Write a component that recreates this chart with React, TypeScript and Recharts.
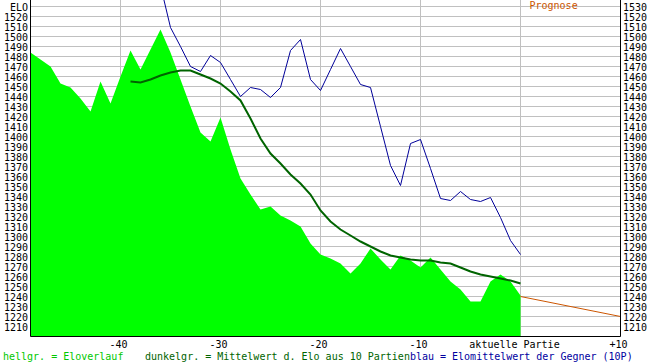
import { ComposedChart, Area, Line, XAxis, YAxis, CartesianGrid } from 'recharts';

// Partien relativ zur aktuellen Partie (0), plus Prognosepunkt +10
const games = [
  -49, -48, -47, -46, -45, -44, -43, -42, -41, -40,
  -39, -38, -37, -36, -35, -34, -33, -32, -31, -30,
  -29, -28, -27, -26, -25, -24, -23, -22, -21, -20,
  -19, -18, -17, -16, -15, -14, -13, -12, -11, -10,
  -9, -8, -7, -6, -5, -4, -3, -2, -1, 0, 10,
];

// hellgrün: Eloverlauf ab Partie -49
const eloVerlauf = [
  1484, 1477, 1470, 1453, 1449, 1438, 1425, 1455, 1433, 1460,
  1486, 1467, 1487, 1507, 1484, 1457, 1430, 1404, 1395, 1419,
  1387, 1358, 1342, 1327, 1330, 1321, 1316, 1310, 1293, 1282,
  1278, 1273, 1263, 1273, 1288, 1277, 1267, 1281, 1276, 1269,
  1279, 1267, 1255, 1247, 1235, 1235, 1255, 1262, 1255, 1241,
];

// dunkelgrün: Mittelwert aus 10 Partien, ab Partie -39
const mittelwertStart = -39;
const mittelwert = [
  1455, 1454, 1457, 1461, 1464, 1466, 1466, 1462, 1458, 1453,
  1445, 1436, 1418, 1398, 1383, 1373, 1362, 1353, 1342, 1326,
  1315, 1307, 1301, 1295, 1290, 1285, 1281, 1279, 1277, 1276,
  1276, 1274, 1273, 1269, 1265, 1262, 1260, 1258, 1256, 1253,
];

// blau: Elomittelwert der Gegner (10P), ab Partie -36
const gegnerStart = -36;
const gegner = [
  1551,
  1509, 1490, 1470, 1465, 1481, 1474, 1457, 1440, 1449, 1447,
  1439, 1449, 1486, 1497, 1457, 1446, 1467, 1488, 1470, 1452,
  1449, 1410, 1371, 1351, 1393, 1397, 1368, 1338, 1336, 1345,
  1337, 1335, 1339, 1319, 1296, 1282,
];

const prognoseGames = [0, 10];
const prognose = [1240, 1220];

const yTicks = [
  1210, 1220, 1230, 1240, 1250, 1260, 1270, 1280, 1290, 1300, 1310,
  1320, 1330, 1340, 1350, 1360, 1370, 1380, 1390, 1400, 1410, 1420,
  1430, 1440, 1450, 1460, 1470, 1480, 1490, 1500, 1510, 1520, 1530,
];
const xTicks = [-40, -30, -20, -10, 0, 10];

const data = games.map((g, k) => {
  const pi = prognoseGames.indexOf(g);
  return {
    g,
    elo: eloVerlauf[k],
    avg: mittelwert[g - mittelwertStart],
    opp: gegner[g - gegnerStart],
    prog: pi >= 0 ? prognose[pi] : undefined,
  };
});

const FONT = '"DejaVu Sans Mono", monospace';
const Y_DOMAIN = [1200, 1536.5];

// horizontale Gitterlinien aus der y-Skala der Achse
const hGrid = (props: any) => {
  const s = props?.yAxis?.scale;
  if (typeof s === 'function') return yTicks.map((v) => s(v));
  const o = props?.offset;
  if (!o) return [];
  const [lo, hi] = Y_DOMAIN;
  return yTicks.map((v) => o.top + o.height * (1 - (v - lo) / (hi - lo)));
};

const LeftTick = (props: any) => {
  const { x, y, payload } = props;
  const label = payload.value === 1530 ? 'ELO' : String(payload.value);
  return (
    <text x={x} y={y + 4} textAnchor="end" fontSize={10} fontFamily={FONT} fill="#000">
      {label}
    </text>
  );
};

const RightTick = (props: any) => {
  const { x, y, payload } = props;
  return (
    <text x={x} y={y + 4} textAnchor="start" fontSize={10} fontFamily={FONT} fill="#000">
      {payload.value}
    </text>
  );
};

const BottomTick = (props: any) => {
  const { x, y, payload } = props;
  const v = payload.value;
  const label = v === 0 ? 'aktuelle Partie' : v > 0 ? '+' + v : String(v);
  return (
    <text x={x + (v === 0 ? -6 : -2)} y={y + 11} textAnchor="middle" fontSize={10} fontFamily={FONT} fill="#000">
      {label}
    </text>
  );
};

export default function App() {
  return (
    <div style={{ position: 'absolute', left: 0, top: 0, width: 650, height: 363, background: '#fff', fontFamily: FONT }}>
      <ComposedChart width={650} height={363} data={data} margin={{ top: 0, right: 0, bottom: 0, left: 0 }}>
        <CartesianGrid
          stroke="#c0c0c0"
          strokeWidth={1}
          verticalValues={xTicks}
          horizontalCoordinatesGenerator={hGrid}
        />
        <XAxis
          dataKey="g"
          type="number"
          domain={[-49, 10]}
          ticks={xTicks}
          interval={0}
          allowDataOverflow
          height={26.5}
          tickSize={0}
          tickMargin={0}
          axisLine={{ stroke: '#000' }}
          tickLine={false}
          tick={<BottomTick />}
        />
        <YAxis
          domain={Y_DOMAIN}
          ticks={yTicks}
          interval={0}
          allowDataOverflow
          width={30.5}
          tickSize={0}
          tickMargin={2.5}
          axisLine={{ stroke: '#000' }}
          tickLine={false}
          tick={<LeftTick />}
        />
        <YAxis
          yAxisId="r"
          orientation="right"
          domain={Y_DOMAIN}
          ticks={yTicks}
          interval={0}
          allowDataOverflow
          width={29.5}
          tickSize={0}
          tickMargin={2.5}
          axisLine={{ stroke: '#000' }}
          tickLine={false}
          tick={<RightTick />}
        />
        <Area
          type="linear"
          dataKey="elo"
          stroke="none"
          fill="#00ff00"
          fillOpacity={1}
          dot={false}
          activeDot={false}
          isAnimationActive={false}
        />
        <Line
          type="linear"
          dataKey="opp"
          stroke="#000099"
          strokeWidth={1}
          dot={false}
          activeDot={false}
          isAnimationActive={false}
        />
        <Line
          type="linear"
          dataKey="avg"
          stroke="#006400"
          strokeWidth={2}
          dot={false}
          activeDot={false}
          isAnimationActive={false}
        />
        <Line
          type="linear"
          dataKey="prog"
          stroke="#cc5500"
          strokeWidth={1}
          dot={false}
          activeDot={false}
          connectNulls
          isAnimationActive={false}
        />
      </ComposedChart>
      <svg width={650} height={363} style={{ position: 'absolute', left: 0, top: 0, pointerEvents: 'none' }}>
        <text x={529.5} y={8.5} fontSize={10} fontFamily={FONT} fill="#cc5500">Prognose</text>
        <text y={359.5} fontSize={10} fontFamily={FONT} xmlSpace="preserve">
          <tspan x={3} fill="#00c800">hellgr. = Eloverlauf</tspan>
          <tspan x={145} fill="#006400">dunkelgr. = Mittelwert d. Elo aus 10 Partien</tspan>
          <tspan fill="#0000a0">blau = Elomittelwert der Gegner (10P)</tspan>
        </text>
      </svg>
    </div>
  );
}
